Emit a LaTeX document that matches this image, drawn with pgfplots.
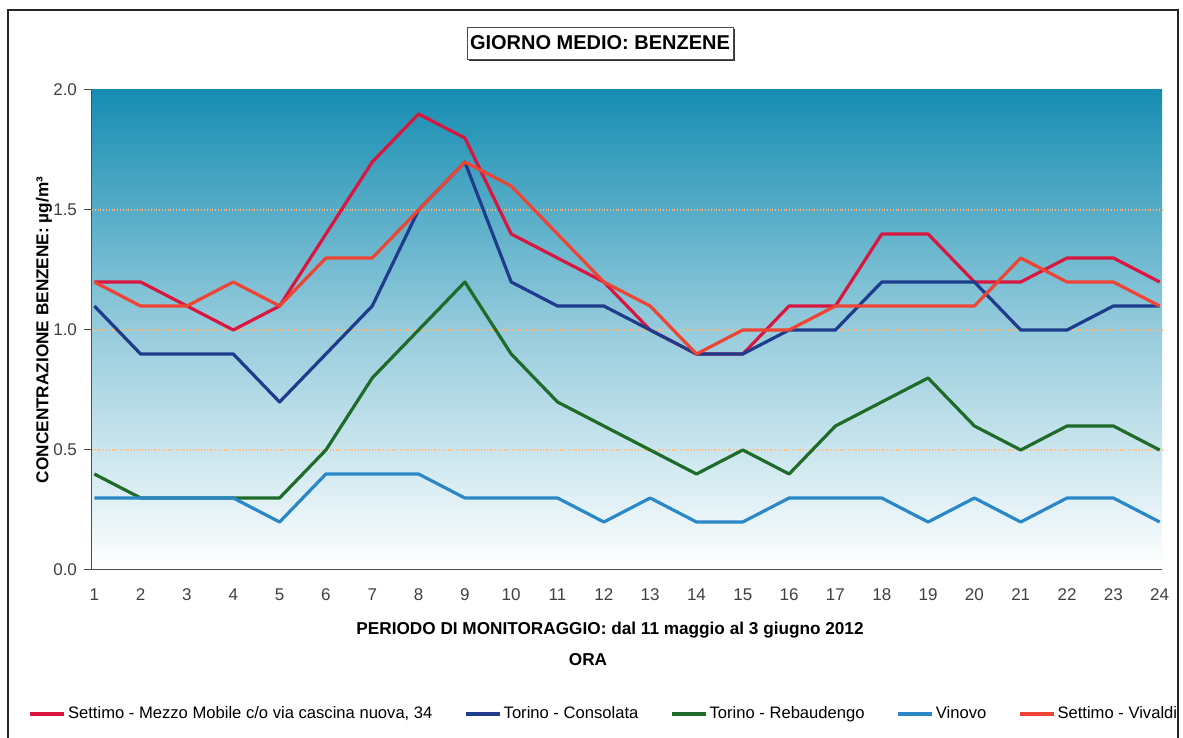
\documentclass[border=0pt]{standalone}
\usepackage{fontspec}
\setmainfont{Liberation Sans}
\usepackage{pgfplots}
\pgfplotsset{compat=1.18}
\definecolor{cMezzo}{HTML}{D8163F}
\definecolor{cCons}{HTML}{1F3C8C}
\definecolor{cReb}{HTML}{1E6B2A}
\definecolor{cVin}{HTML}{2A88C8}
\definecolor{cViv}{HTML}{EE4433}
\definecolor{bgTop}{HTML}{168DB2}
\definecolor{tickgray}{HTML}{404040}
\begin{document}
\begin{tikzpicture}
\useasboundingbox (0,0) rectangle (591.5pt,369pt);
% outer frame
\draw[line width=1.2pt, black!85] (4pt,-2pt) -- (4pt,364pt) -- (589pt,364pt) -- (589pt,-2pt);
\begin{axis}[
  at={(46pt,84pt)}, anchor=south west,
  scale only axis, width=535pt, height=240pt,
  xmin=0.95, xmax=24.05, ymin=0, ymax=2,
  axis background/.style={shade, top color=bgTop, bottom color=white, middle color=bgTop!45!white},
  axis x line*=bottom, axis y line*=left,
  axis line style={black!70, line width=0.5pt},
  xtick={1,...,24}, xtick style={draw=none},
  ytick={0,0.5,1,1.5,2},
  yticklabel style={/pgf/number format/.cd, fixed, fixed zerofill, precision=1},
  ytick style={black!70, line width=0.5pt},
  tick align=outside, major tick length=4pt,
  extra y ticks={0.5,1,1.5}, extra y tick labels={},
  extra y tick style={grid=major, major tick length=0pt,
     major grid style={densely dotted, color=orange!55!white, line width=0.6pt}},
  ticklabel style={font=\fontsize{8.5}{10}\selectfont, text=tickgray},
  /pgf/number format/assume math mode=true,
  xticklabel style={yshift=-2pt},
  legend style={at={(0.4785,-0.30)}, anchor=center, draw=none, fill=none,
     font=\fontsize{8.3}{10}\selectfont, nodes={inner xsep=1pt},
     /tikz/every even column/.append style={column sep=15pt}},
  legend columns=5,
  legend image code/.code={\draw[#1, line width=1.6pt] (0pt,0pt) -- (17pt,0pt);},
  every axis plot/.append style={line width=1.6pt, line join=round},
  clip=false,
]
\addplot[cMezzo] coordinates {(1,1.2)(2,1.2)(3,1.1)(4,1.0)(5,1.1)(6,1.4)(7,1.7)(8,1.9)(9,1.8)(10,1.4)(11,1.3)(12,1.2)(13,1.0)(14,0.9)(15,0.9)(16,1.1)(17,1.1)(18,1.4)(19,1.4)(20,1.2)(21,1.2)(22,1.3)(23,1.3)(24,1.2)};
\addlegendentry{Settimo - Mezzo Mobile c/o via cascina nuova, 34}
\addplot[cCons] coordinates {(1,1.1)(2,0.9)(3,0.9)(4,0.9)(5,0.7)(6,0.9)(7,1.1)(8,1.5)(9,1.7)(10,1.2)(11,1.1)(12,1.1)(13,1.0)(14,0.9)(15,0.9)(16,1.0)(17,1.0)(18,1.2)(19,1.2)(20,1.2)(21,1.0)(22,1.0)(23,1.1)(24,1.1)};
\addlegendentry{Torino - Consolata}
\addplot[cReb] coordinates {(1,0.4)(2,0.3)(3,0.3)(4,0.3)(5,0.3)(6,0.5)(7,0.8)(8,1.0)(9,1.2)(10,0.9)(11,0.7)(12,0.6)(13,0.5)(14,0.4)(15,0.5)(16,0.4)(17,0.6)(18,0.7)(19,0.8)(20,0.6)(21,0.5)(22,0.6)(23,0.6)(24,0.5)};
\addlegendentry{Torino - Rebaudengo}
\addplot[cVin] coordinates {(1,0.3)(2,0.3)(3,0.3)(4,0.3)(5,0.2)(6,0.4)(7,0.4)(8,0.4)(9,0.3)(10,0.3)(11,0.3)(12,0.2)(13,0.3)(14,0.2)(15,0.2)(16,0.3)(17,0.3)(18,0.3)(19,0.2)(20,0.3)(21,0.2)(22,0.3)(23,0.3)(24,0.2)};
\addlegendentry{Vinovo}
\addplot[cViv] coordinates {(1,1.2)(2,1.1)(3,1.1)(4,1.2)(5,1.1)(6,1.3)(7,1.3)(8,1.5)(9,1.7)(10,1.6)(11,1.4)(12,1.2)(13,1.1)(14,0.9)(15,1.0)(16,1.0)(17,1.1)(18,1.1)(19,1.1)(20,1.1)(21,1.3)(22,1.2)(23,1.2)(24,1.1)};
\addlegendentry{Settimo - Vivaldi}
\end{axis}
% title box with shadow
\node[fill=black!80, minimum width=133pt, minimum height=16pt, anchor=center] at (301pt,346.5pt) {};
\node[draw=black!70, fill=white, minimum width=133pt, minimum height=16pt, anchor=center, inner sep=0pt] at (300pt,347.5pt) {\fontsize{10}{12}\selectfont\bfseries GIORNO MEDIO: BENZENE};
% axis labels
\node[anchor=center] at (305pt,54pt) {\fontsize{8.6}{10}\selectfont\bfseries PERIODO DI MONITORAGGIO: dal 11 maggio al 3 giugno 2012};
\node[anchor=center] at (294pt,39pt) {\fontsize{8.6}{10}\selectfont\bfseries ORA};
\node[anchor=center, rotate=90] at (22pt,204pt) {\fontsize{8.6}{10}\selectfont\bfseries CONCENTRAZIONE BENZENE: µg/m³};
\end{tikzpicture}
\end{document}
